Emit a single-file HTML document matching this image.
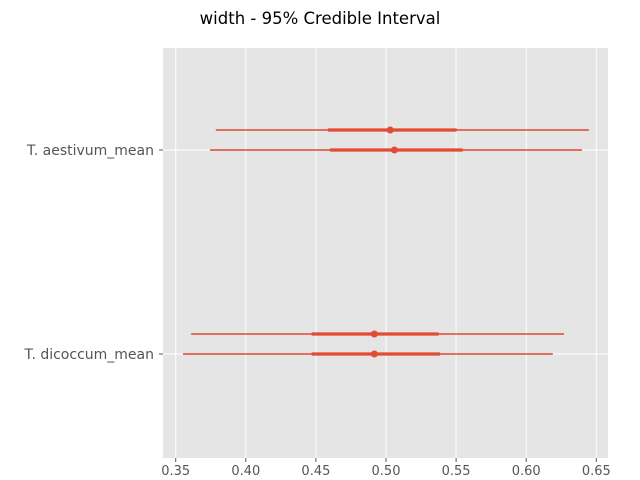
<!DOCTYPE html>
<html><head><meta charset="utf-8"><style>
body{margin:0;background:#fff;}
svg{display:block;font-family:"DejaVu Sans","Liberation Sans",sans-serif;}
</style></head><body>
<svg id="chart" width="640" height="480"></svg>
<script>
const categories = ["T. aestivum_mean", "T. dicoccum_mean"];
const chainLow = [[0.3786, 0.3745], [0.361, 0.3552]];
const chainHigh = [[0.6448, 0.6398], [0.627, 0.619]];
const hdiLow = [[0.4586, 0.460], [0.447, 0.447]];
const hdiHigh = [[0.5504, 0.5547], [0.5376, 0.5385]];
const means = [[0.503, 0.506], [0.4917, 0.4917]];
const xTicks = [0.35, 0.40, 0.45, 0.50, 0.55, 0.60, 0.65];

const NS = "http://www.w3.org/2000/svg";
const svg = document.getElementById("chart");
const L = 163, R = 608, T = 48, B = 458;
const xs = v => 175.7 + (v - 0.35) * 1402;
const catY = [150, 354];
function el(tag, attrs, parent) {
  const e = document.createElementNS(NS, tag);
  for (const k in attrs) e.setAttribute(k, attrs[k]);
  (parent || svg).appendChild(e);
  return e;
}
const bg = el("rect", {x: L, y: T, width: R - L, height: B - T, fill: "#E5E5E5"});


xTicks.forEach(t => {
  const g = el("line", {x1: xs(t), x2: xs(t), y1: T, y2: B, stroke: "#fff", "stroke-width": 1});
  
  
  const tk = el("line", {x1: xs(t), x2: xs(t), y1: B, y2: B + 4, stroke: "#555", "stroke-width": 1});
  
  
  const tx = el("text", {x: xs(t), y: B + 17, "text-anchor": "middle", "font-size": 13, fill: "#555"});
  tx.textContent = t.toFixed(2);
  
  
});
categories.forEach((c, i) => {
  const y = catY[i];
  const g = el("line", {x1: L, x2: R, y1: y, y2: y, stroke: "#fff", "stroke-width": 1});
  
  
  const tk = el("line", {x1: L - 4, x2: L, y1: y, y2: y, stroke: "#555", "stroke-width": 1});
  
  
  const tx = el("text", {x: L - 9, y: y + 5, "text-anchor": "end", "font-size": 14, fill: "#555"});
  tx.textContent = c;
  
  
  for (let j = 0; j < 2; j++) {
    const yy = y - 20 + j * 20;
    const a = el("line", {x1: xs(chainLow[i][j]), x2: xs(chainHigh[i][j]), y1: yy, y2: yy, stroke: "#E24A33", "stroke-width": 1.5});
    
    
    const b = el("line", {x1: xs(hdiLow[i][j]), x2: xs(hdiHigh[i][j]), y1: yy, y2: yy, stroke: "#E24A33", "stroke-width": 3.2});
    
    
    const p = el("circle", {cx: xs(means[i][j]), cy: yy, r: 3.5, fill: "#E24A33"});
    
    
  }
});
const title = el("text", {x: 320, y: 24, "text-anchor": "middle", "font-size": 16.5, fill: "#000"});
title.textContent = "width - 95% Credible Interval";


</script>
</body></html>
